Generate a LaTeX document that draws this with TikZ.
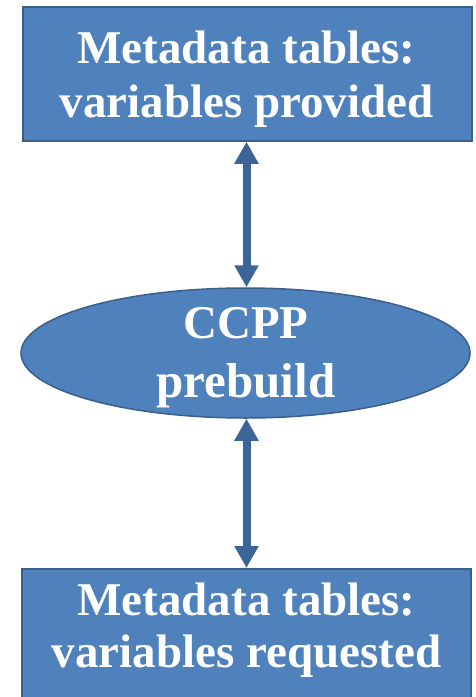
\documentclass[tikz,border=0pt]{standalone}
\usepackage{fontspec}
\setmainfont{Liberation Serif}
\usetikzlibrary{shapes.geometric,arrows.meta}
\definecolor{boxfill}{HTML}{4F81BD}
\definecolor{boxedge}{HTML}{3A5F8B}
\definecolor{arrowcol}{HTML}{3C6499}
\tikzset{
  boxstyle/.style={draw=boxedge, fill=boxfill, line width=1.5pt, inner sep=0pt},
  ellstyle/.style={ellipse, draw=boxedge, fill=boxfill, line width=1.5pt, inner sep=0pt},
  txt/.style={text=white, font=\fontsize{47}{54}\selectfont\bfseries, inner sep=0pt, anchor=base},
  dblarrow/.style={draw=arrowcol, line width=8pt,
    {Triangle[width=23pt,length=22pt]}-{Triangle[width=23pt,length=22pt]}}
}
\begin{document}
\begin{tikzpicture}[x=1pt,y=-1pt]
\useasboundingbox (0,0) rectangle (475,697);
\node[boxstyle, minimum width=449pt, minimum height=134pt] (top) at (247.5,74) {};
\node[ellstyle, minimum width=449pt, minimum height=130pt] (ell) at (245.5,353) {};
\node[boxstyle, minimum width=449pt, minimum height=136pt, anchor=north] (bot) at (246.5,568) {};
\node[txt] (t1) at (246.5,63) {Metadata tables:};
\node[txt] (t2) at (246.5,117) {variables provided};
\node[txt] (e1) at (246,338) {CCPP};
\node[txt, font=\fontsize{49}{54}\selectfont\bfseries] (e2) at (246,397) {prebuild};
\node[txt] (b1) at (246.5,615) {Metadata tables:};
\node[txt] (b2) at (246.5,667) {variables requested};
\draw[dblarrow] (top.south -| 246.5,0) -- (ell.north -| 246.5,0);
\draw[dblarrow] (ell.south -| 246.5,0) -- (bot.north -| 246.5,0);
\end{tikzpicture}
\end{document}
